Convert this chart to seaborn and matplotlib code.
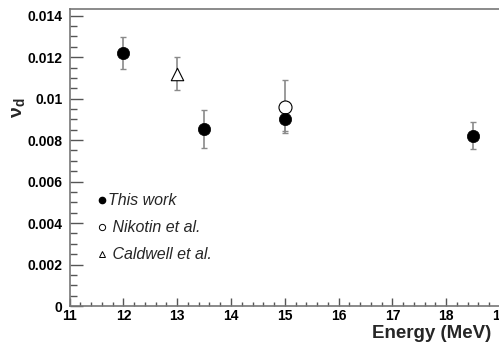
import numpy as np
import matplotlib
matplotlib.use("Agg")
import matplotlib.pyplot as plt
import seaborn as sns
from matplotlib.ticker import MultipleLocator, FuncFormatter
from matplotlib.lines import Line2D

# This work (filled circles)
this_e = [12.0, 13.5, 15.0, 18.5]
this_v = [0.0122, 0.00855, 0.00903, 0.0082]
this_err = [0.00078, 0.00092, 0.0006, 0.00065]

# Nikotin et al. (open circle)
nik_e = [15.0]
nik_v = [0.00962]
nik_err = [0.0013]

# Caldwell et al. (open triangle)
cal_e = [13.0]
cal_v = [0.0112]
cal_err = [0.0008]

sns.set_theme(style="ticks")
plt.rcParams.update({
    "font.family": ["Liberation Sans", "DejaVu Sans"],
    "mathtext.fontset": "custom",
    "mathtext.rm": "Liberation Sans",
    "mathtext.bf": "Liberation Sans:bold",
    "mathtext.it": "Liberation Sans:italic",
})

fig = plt.figure(figsize=(4.99, 3.45), dpi=100)
ax = fig.add_axes([0.1395, 0.113, 0.8625, 0.8595])

# error bars: gray stems, black caps
for e, v, err, z in [(nik_e, nik_v, nik_err, 2), (cal_e, cal_v, cal_err, 2), (this_e, this_v, this_err, 3)]:
    eb = ax.errorbar(e, v, yerr=err, fmt="none", ecolor="#8a8a8a", elinewidth=1.2,
                     capsize=2, capthick=1, zorder=z)
    for cap in eb[1]:
        cap.set_color("black")

sns.scatterplot(x=nik_e, y=nik_v, ax=ax, marker="o", s=88, facecolor="white",
                edgecolor="black", linewidth=0.8, zorder=4)
sns.scatterplot(x=cal_e, y=cal_v, ax=ax, marker="^", s=80, facecolor="white",
                edgecolor="black", linewidth=0.8, zorder=4)
sns.scatterplot(x=this_e, y=this_v, ax=ax, marker="o", s=78, color="black",
                edgecolor="black", linewidth=0.5, zorder=5)

ax.set_xlim(11, 19)
ax.set_ylim(0, 0.0143)

ax.xaxis.set_major_locator(MultipleLocator(1))
ax.xaxis.set_minor_locator(MultipleLocator(0.2))
ax.yaxis.set_major_locator(MultipleLocator(0.002))
ax.yaxis.set_minor_locator(MultipleLocator(0.0005))
ax.yaxis.set_major_formatter(FuncFormatter(lambda v, p: "%g" % round(v, 4)))

ax.tick_params(which="both", direction="in", colors="#555555", labelcolor="black",
               labelsize=10, width=1)
ax.tick_params(axis="y", which="major", length=9, pad=5)
ax.tick_params(axis="y", which="minor", length=5)
ax.tick_params(axis="x", which="major", length=6, pad=2)
ax.tick_params(axis="x", which="minor", length=3)
for lab in ax.get_xticklabels() + ax.get_yticklabels():
    lab.set_fontweight("bold")

for s in ["left", "bottom", "top"]:
    ax.spines[s].set_color("#777777")
    ax.spines[s].set_linewidth(1.2)
ax.spines["right"].set_visible(False)

ax.set_xlabel("Energy (MeV)", fontsize=13.5, fontweight="bold", ha="right")
ax.xaxis.set_label_coords(0.98, -0.065)
ax.set_ylabel(r"$\mathbf{\nu}_{\mathbf{d}}$", fontsize=14, fontweight="bold")
ax.yaxis.set_label_coords(-0.1, 0.67)

handles = [
    Line2D([], [], marker="o", ls="none", color="black", markersize=4.5),
    Line2D([], [], marker="o", ls="none", mfc="white", mec="black", markersize=4.5, mew=0.7),
    Line2D([], [], marker="^", ls="none", mfc="white", mec="black", markersize=4.5, mew=0.7),
]
labels = ["This work", " Nikotin et al.", " Caldwell et al."]
leg = ax.legend(handles, labels, frameon=False, loc="upper left",
                bbox_to_anchor=(0.03, 0.428), handlelength=0.6, handletextpad=0.12,
                labelspacing=0.75, prop={"style": "italic", "size": 11.5})

fig.savefig("out.png", dpi=100)
